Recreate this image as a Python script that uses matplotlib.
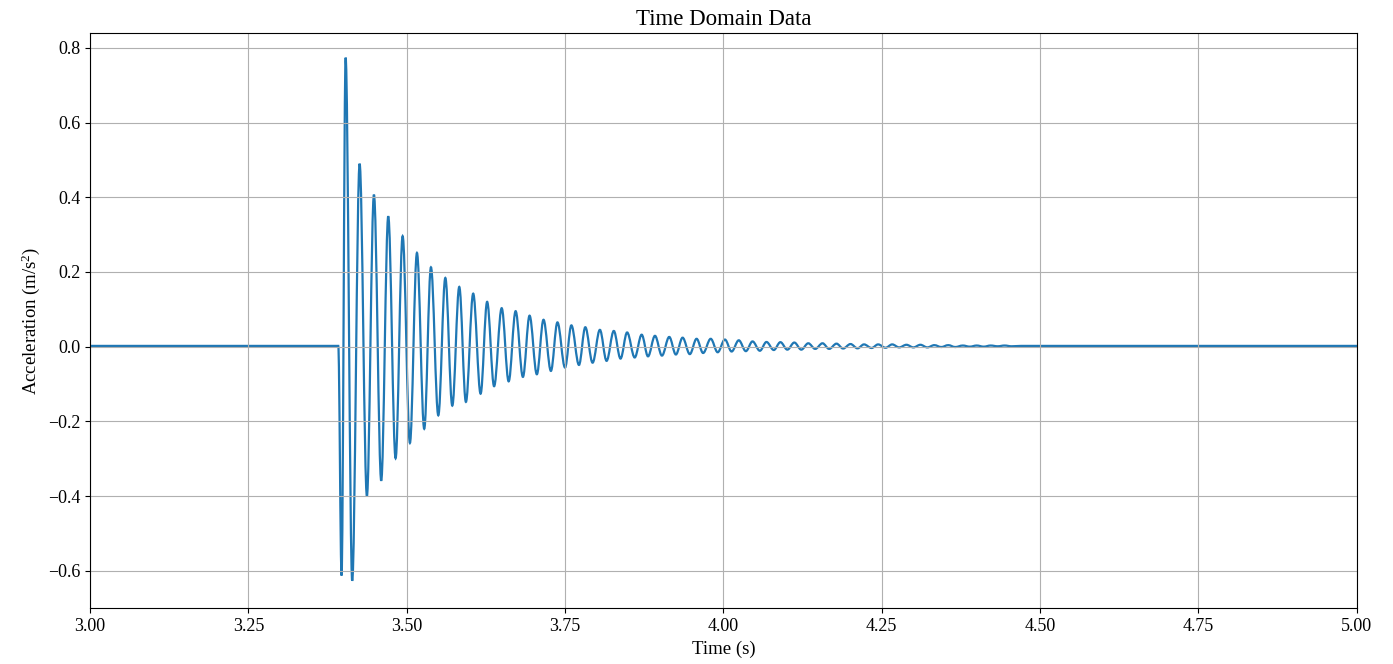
import numpy as np
import matplotlib
matplotlib.use("Agg")
import matplotlib.pyplot as plt
from matplotlib.path import Path
from matplotlib.patches import PathPatch

plt.rcParams['font.family'] = ['Liberation Serif', 'DejaVu Serif']
plt.rcParams['font.size'] = 13
plt.rcParams['mathtext.fontset'] = 'custom'
plt.rcParams['mathtext.rm'] = 'Liberation Serif'
plt.rcParams['mathtext.it'] = 'Liberation Serif:italic'
plt.rcParams['mathtext.default'] = 'rm'

# extrema of the decaying response (s, m/s^2)
time_s = [3.000, 3.392, 3.3972, 3.4036, 3.414, 3.4257, 3.4372, 3.4483, 3.4598, 3.4709,
          3.4825, 3.4936, 3.5051, 3.5162, 3.5277, 3.5383, 3.5499, 3.561, 3.572, 3.583,
          3.5935, 3.605, 3.6167, 3.627, 3.638, 3.650, 3.661, 3.672, 3.6835, 3.694,
          3.7055, 3.716, 3.7277, 3.738, 3.750, 3.760, 3.772, 3.782, 3.7935, 3.805,
          3.8156, 3.827, 3.8376, 3.848, 3.860, 3.871, 3.881, 3.892, 3.903, 3.9145,
          3.925, 3.9356, 3.947, 3.9577, 3.968, 3.980, 3.991, 4.0024, 4.013, 4.0243,
          4.0355, 4.046, 4.0576, 4.068, 4.0796, 4.090, 4.101, 4.112, 4.123, 4.134,
          4.145, 4.1565, 4.167, 4.1786, 4.189, 4.2007, 4.2118, 4.222, 4.234, 4.2443,
          4.256, 4.2665, 4.2775, 4.289, 4.300, 4.311, 4.322, 4.333, 4.344, 4.355,
          4.366, 4.378, 4.389, 4.400, 4.411, 4.422, 4.433, 4.444, 4.455, 4.470,
          5.000]
accel = [0.002, 0.002, -0.613, 0.774, -0.627, 0.490, -0.400, 0.407, -0.359, 0.349,
         -0.299, 0.296, -0.258, 0.251, -0.220, 0.2125, -0.184, 0.184, -0.158, 0.160,
         -0.148, 0.142, -0.126, 0.120, -0.106, 0.103, -0.093, 0.095, -0.081, 0.083,
         -0.074, 0.072, -0.065, 0.065, -0.056, 0.057, -0.049, 0.052, -0.043, 0.045,
         -0.038, 0.042, -0.032, 0.038, -0.029, 0.032, -0.026, 0.029, -0.024, 0.026,
         -0.021, 0.024, -0.020, 0.021, -0.017, 0.021, -0.015, 0.019, -0.013, 0.017,
         -0.012, 0.014, -0.011, 0.0125, -0.009, 0.012, -0.008, 0.011, -0.008, 0.009,
         -0.006, 0.009, -0.006, 0.008, -0.005, 0.007, -0.0045, 0.006, -0.0036, 0.006,
         -0.003, 0.006, -0.002, 0.005, -0.002, 0.005, -0.002, 0.004, -0.001, 0.004,
         -0.001, 0.003, 0.000, 0.003, 0.000, 0.003, 0.001, 0.003, 0.001, 0.002,
         0.002]
assert len(time_s) == len(accel)

# join the extrema with cubic bezier segments, flat tangent at each extremum
verts = [(time_s[0], accel[0])]
codes = [Path.MOVETO]
for i in range(1, len(time_s)):
    t0, a0 = time_s[i - 1], accel[i - 1]
    t1, a1 = time_s[i], accel[i]
    dt = (t1 - t0) * 0.36
    verts += [(t0 + dt, a0), (t1 - dt, a1), (t1, a1)]
    codes += [Path.CURVE4] * 3

fig = plt.figure(figsize=(13.93, 6.64), dpi=100)
ax = fig.add_axes([0.0646, 0.0843, 0.9094, 0.8660])
ax.add_patch(PathPatch(Path(verts, codes), facecolor='none',
                       edgecolor='tab:blue', lw=1.6, capstyle='round'))
ax.set_xlim(3.0, 5.0)
ax.set_ylim(-0.70, 0.84)
ax.set_xticks(np.arange(3.0, 5.01, 0.25))
ax.set_yticks(np.arange(-0.6, 0.81, 0.2))
ax.set_title('Time Domain Data', fontsize=16.5)
ax.set_xlabel('Time (s)', fontsize=13.5)
ax.set_ylabel('Acceleration (m/s$^2$)', fontsize=13.5)
ax.grid()

fig.savefig('out.png', dpi=100)
